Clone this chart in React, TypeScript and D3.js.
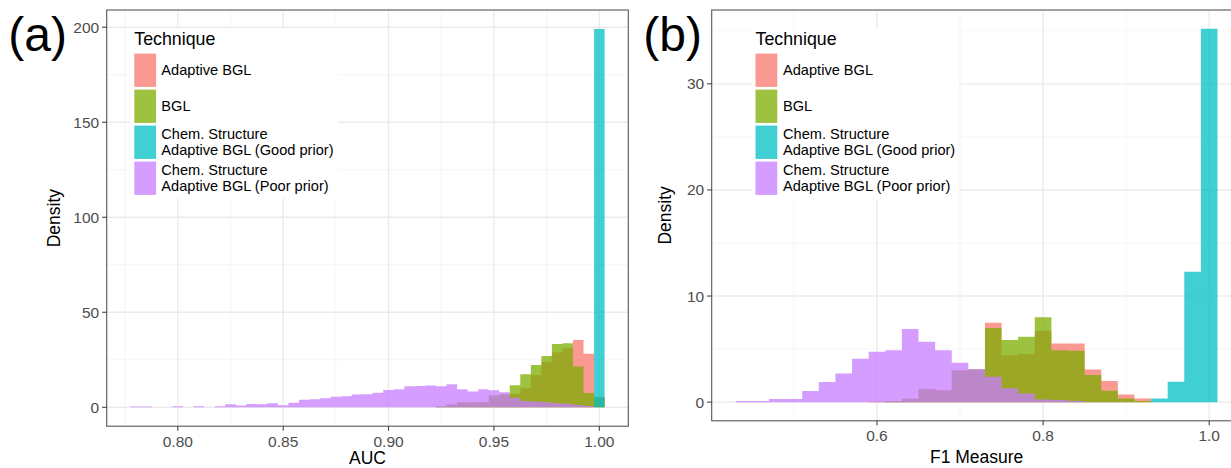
import React from 'react';
import * as d3 from 'd3';

// ---------- legend ----------
const techniques = [
  'Adaptive BGL',
  'BGL',
  'Chem. Structure\nAdaptive BGL (Good prior)',
  'Chem. Structure\nAdaptive BGL (Poor prior)',
];
const techniqueColors = ['#F8766D', '#7CAE00', '#00BFC4', '#C77CFF'];

// ---------- panel (a): AUC ----------
const aucBinWidth = 0.005;
const aucBinCenters = [
  0.780, 0.785, 0.790, 0.795, 0.800, 0.805, 0.810, 0.815, 0.820, 0.825,
  0.830, 0.835, 0.840, 0.845, 0.850, 0.855, 0.860, 0.865, 0.870, 0.875,
  0.880, 0.885, 0.890, 0.895, 0.900, 0.905, 0.910, 0.915, 0.920, 0.925,
  0.930, 0.935, 0.940, 0.945, 0.950, 0.955, 0.960, 0.965, 0.970, 0.975,
  0.980, 0.985, 0.990, 0.995, 1.000,
];
const aucAdaptiveBGL = [
  0, 0, 0, 0, 0, 0, 0, 0, 0, 0,
  0, 0, 0, 0, 0, 0, 0, 0, 0, 0,
  0, 0, 0, 0, 0, 0, 0, 0, 0, 0.4,
  1.2, 2.2, 2.4, 2.6, 5.5, 6.2, 7.0, 10, 17, 24,
  29, 31, 35.4, 28.2, 5.5,
];
const aucBGL = [
  0, 0, 0, 0, 0, 0, 0, 0, 0, 0,
  0, 0, 0, 0, 0, 0, 0, 0, 0, 0,
  0, 0, 0, 0, 0, 0, 0, 0, 0, 0.5,
  1.6, 2.6, 2.6, 2.8, 6.3, 7.0, 11.6, 17.4, 22.3, 27,
  33.3, 33.7, 21.5, 7.5, 5.0,
];
const aucGoodPrior = [
  0, 0, 0, 0, 0, 0, 0, 0, 0, 0,
  0, 0, 0, 0, 0, 0, 0, 0, 0, 0,
  0, 0, 0, 0, 0, 0, 0, 0, 0, 0,
  0, 0, 0, 0, 0, 0, 0, 0, 0, 0,
  0, 0, 0, 0, 199.1,
];
const aucPoorPrior = [
  0.35, 0.35, 0, 0, 0.5, 0, 0.5, 0, 0.5, 1.6,
  0.9, 1.75, 1.6, 2.1, 1.05, 2.45, 3.9, 4.2, 4.7, 5.6,
  5.8, 6.7, 6.8, 7.7, 9.1, 9.5, 11.1, 11.2, 11.4, 11.05,
  12.1, 9.5, 8.25, 9.5, 9.0, 7.9, 5.0, 3.3, 3.0, 2.6,
  2.1, 1.8, 1.2, 0.7, 0,
];
const aucXTicks = [0.8, 0.85, 0.9, 0.95, 1.0];
const aucXTickLabels = ['0.80', '0.85', '0.90', '0.95', '1.00'];
const aucYTicks = [0, 50, 100, 150, 200];
const aucYTickLabels = ['0', '50', '100', '150', '200'];

// ---------- panel (b): F1 ----------
const f1BinWidth = 0.02;
const f1BinCenters = [
  0.44, 0.46, 0.48, 0.50, 0.52, 0.54, 0.56, 0.58, 0.60, 0.62,
  0.64, 0.66, 0.68, 0.70, 0.72, 0.74, 0.76, 0.78, 0.80, 0.82,
  0.84, 0.86, 0.88, 0.90, 0.92, 0.94, 0.96, 0.98, 1.00,
];
const f1AdaptiveBGL = [
  0, 0, 0, 0, 0, 0, 0, 0, 0.05, 0.1,
  0.35, 1.25, 1.15, 3.0, 3.1, 7.48, 4.43, 4.53, 6.73, 5.53,
  5.53, 3.08, 1.98, 0.72, 0.35, 0, 0, 0, 0,
];
const f1BGL = [
  0, 0, 0, 0, 0, 0, 0, 0, 0, 0.1,
  0.3, 1.2, 1.1, 2.95, 3.05, 6.98, 5.85, 6.16, 7.99, 4.9,
  4.84, 2.55, 1.07, 0.35, 0.1, 0, 0, 0, 0,
];
const f1GoodPrior = [
  0, 0, 0, 0, 0, 0, 0, 0, 0, 0,
  0, 0, 0, 0, 0, 0, 0, 0, 0, 0,
  0, 0, 0, 0, 0, 0.35, 1.92, 12.3, 35.2,
];
const f1PoorPrior = [
  0.1, 0.1, 0.3, 0.3, 1.04, 1.9, 2.7, 4.1, 4.75, 4.9,
  6.9, 5.7, 4.9, 3.7, 3.1, 2.4, 1.3, 0.82, 0.25, 0.19,
  0.1, 0, 0, 0, 0, 0, 0, 0, 0,
];
const f1XTicks = [0.6, 0.8, 1.0];
const f1XTickLabels = ['0.6', '0.8', '1.0'];
const f1YTicks = [0, 10, 20, 30];
const f1YTickLabels = ['0', '10', '20', '30'];

const FONT = '"Liberation Sans", Arial, Helvetica, sans-serif';
const ALPHA = 0.75;

type Box = { left: number; right: number; top: number; bottom: number };

type PanelProps = {
  tag: string;
  tagX: number;
  box: Box;
  centers: number[];
  binWidth: number;
  series: number[][];
  xTicks: number[];
  xTickLabels: string[];
  yTicks: number[];
  yTickLabels: string[];
  xTitle: string;
  xTickBaseline: number;
  xTitleBaseline: number;
  yTitleX: number;
  legend: { left: number; right: number; top: number; bottom: number; x: number; labelX: number };
};

function minorTicks(major: number[], domain: number[]) {
  const step = major[1] - major[0];
  const out: number[] = [];
  for (let i = -1; i < major.length; i++) {
    const m = major[0] + (i + 0.5) * step;
    if (m > domain[0] && m < domain[1]) out.push(m);
  }
  return out;
}

function Panel(p: PanelProps) {
  const { box } = p;
  const lo = (d3.min(p.centers) as number) - p.binWidth / 2;
  const hi = (d3.max(p.centers) as number) + p.binWidth / 2;
  const xr = hi - lo;
  const x = d3.scaleLinear().domain([lo - 0.05 * xr, hi + 0.05 * xr]).range([box.left, box.right]);
  const ymax = d3.max(p.series.flat()) as number;
  const y = d3.scaleLinear().domain([-0.05 * ymax, 1.05 * ymax]).range([box.bottom, box.top]);

  const xMinor = minorTicks(p.xTicks, x.domain());
  const yMinor = minorTicks(p.yTicks, y.domain());

  const area = d3
    .area<{ e: number; v: number }>()
    .x((d) => x(d.e))
    .y0(y(0))
    .y1((d) => y(d.v))
    .curve(d3.curveStepAfter);

  const paths = p.series.map((vals) => {
    const pts = p.centers.map((c, i) => ({ e: c - p.binWidth / 2, v: vals[i] }));
    pts.push({ e: p.centers[p.centers.length - 1] + p.binWidth / 2, v: vals[vals.length - 1] });
    return area(pts) as string;
  });

  const lg = p.legend;
  const keyTop0 = 53.6;
  const keyPitch = 36;
  const keyH = 33.3;
  const keyW = 21.8;

  return (
    <g>
      <text x={p.tagX} y={51} fontSize={48} fontFamily={FONT} fill="#000">
        {p.tag}
      </text>
      <rect x={box.left} y={box.top} width={box.right - box.left} height={box.bottom - box.top} fill="#fff" />
      {xMinor.map((v, i) => (
        <line key={'xm' + i} x1={x(v)} x2={x(v)} y1={box.top} y2={box.bottom} stroke="#F2F2F2" strokeWidth={0.8} />
      ))}
      {yMinor.map((v, i) => (
        <line key={'ym' + i} x1={box.left} x2={box.right} y1={y(v)} y2={y(v)} stroke="#F2F2F2" strokeWidth={0.8} />
      ))}
      {p.xTicks.map((v, i) => (
        <line key={'xg' + i} x1={x(v)} x2={x(v)} y1={box.top} y2={box.bottom} stroke="#EBEBEB" strokeWidth={1.4} />
      ))}
      {p.yTicks.map((v, i) => (
        <line key={'yg' + i} x1={box.left} x2={box.right} y1={y(v)} y2={y(v)} stroke="#EBEBEB" strokeWidth={1.4} />
      ))}
      {paths.map((d, i) => (
        <path key={'s' + i} d={d} fill={techniqueColors[i]} fillOpacity={ALPHA} stroke="none" />
      ))}
      <rect x={lg.left} y={lg.top} width={lg.right - lg.left} height={lg.bottom - lg.top} fill="#fff" />
      <text x={lg.x} y={44.8} fontSize={17.8} fontFamily={FONT} fill="#000">
        Technique
      </text>
      {techniques.map((t, i) => {
        const ky = keyTop0 + i * keyPitch;
        const lines = t.split('\n');
        const cy = ky + keyH / 2;
        return (
          <g key={'lg' + i}>
            <rect x={lg.x} y={ky} width={keyW} height={keyH} fill={techniqueColors[i]} fillOpacity={ALPHA} />
            {lines.map((ln, j) => (
              <text
                key={j}
                x={lg.labelX}
                y={cy + (j - (lines.length - 1) / 2) * 16 + 5.2}
                fontSize={14.6}
                fontFamily={FONT}
                fill="#000"
              >
                {ln}
              </text>
            ))}
          </g>
        );
      })}
      <rect
        x={box.left}
        y={box.top}
        width={box.right - box.left}
        height={box.bottom - box.top}
        fill="none"
        stroke="#555"
        strokeWidth={1.1}
      />
      {p.yTicks.map((v, i) => (
        <g key={'yt' + i}>
          <line x1={box.left - 4.6} x2={box.left} y1={y(v)} y2={y(v)} stroke="#333" strokeWidth={1} />
          <text
            x={box.left - 7.5}
            y={y(v) + 5.5}
            textAnchor="end"
            fontSize={15.5}
            fontFamily={FONT}
            fill="#4D4D4D"
          >
            {p.yTickLabels[i]}
          </text>
        </g>
      ))}
      {p.xTicks.map((v, i) => (
        <g key={'xt' + i}>
          <line x1={x(v)} x2={x(v)} y1={box.bottom} y2={box.bottom + 4.6} stroke="#333" strokeWidth={1} />
          <text x={x(v)} y={p.xTickBaseline} textAnchor="middle" fontSize={15.5} fontFamily={FONT} fill="#4D4D4D">
            {p.xTickLabels[i]}
          </text>
        </g>
      ))}
      <text
        x={(box.left + box.right) / 2}
        y={p.xTitleBaseline}
        textAnchor="middle"
        fontSize={17.5}
        fontFamily={FONT}
        fill="#000"
      >
        {p.xTitle}
      </text>
      <text
        transform={`translate(${p.yTitleX},${(box.top + box.bottom) / 2}) rotate(-90)`}
        textAnchor="middle"
        fontSize={17.5}
        fontFamily={FONT}
        fill="#000"
      >
        Density
      </text>
    </g>
  );
}

export default function App() {
  return (
    <svg
      width={1231}
      height={468}
      viewBox="0 0 1231 468"
      style={{ position: 'absolute', left: 0, top: 0, background: '#fff' }}
    >
      <rect x={0} y={0} width={1231} height={468} fill="#fff" />
      <Panel
        tag="(a)"
        tagX={8.3}
        box={{ left: 106.7, right: 628.3, top: 10, bottom: 426.2 }}
        centers={aucBinCenters}
        binWidth={aucBinWidth}
        series={[aucAdaptiveBGL, aucBGL, aucGoodPrior, aucPoorPrior]}
        xTicks={aucXTicks}
        xTickLabels={aucXTickLabels}
        yTicks={aucYTicks}
        yTickLabels={aucYTickLabels}
        xTitle="AUC"
        xTickBaseline={446.6}
        xTitleBaseline={463.5}
        yTitleX={59.7}
        legend={{ left: 131, right: 338, top: 28.5, bottom: 198.5, x: 134.3, labelX: 161.3 }}
      />
      <Panel
        tag="(b)"
        tagX={643.3}
        box={{ left: 711.7, right: 1241.6, top: 10, bottom: 420.8 }}
        centers={f1BinCenters}
        binWidth={f1BinWidth}
        series={[f1AdaptiveBGL, f1BGL, f1GoodPrior, f1PoorPrior]}
        xTicks={f1XTicks}
        xTickLabels={f1XTickLabels}
        yTicks={f1YTicks}
        yTickLabels={f1YTickLabels}
        xTitle="F1 Measure"
        xTickBaseline={441.2}
        xTitleBaseline={463}
        yTitleX={670.5}
        legend={{ left: 752, right: 959, top: 28.8, bottom: 199.5, x: 755.5, labelX: 783 }}
      />
    </svg>
  );
}
